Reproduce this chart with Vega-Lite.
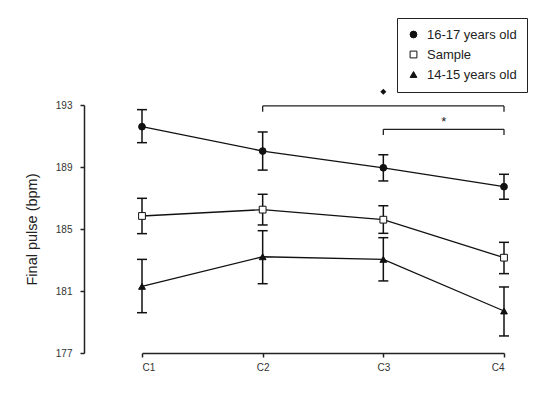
{
  "$schema": "https://vega.github.io/schema/vega-lite/v6.json",
  "autosize": "none",
  "width": 362,
  "height": 248,
  "padding": {"left": 142, "top": 105, "right": 46, "bottom": 42},
  "background": "white",
  "config": {
    "view": {"stroke": null},
    "font": "Liberation Sans",
    "axis": {"grid": false, "domainColor": "#222", "domainWidth": 1.5, "tickColor": "#222", "tickWidth": 1.5, "labelColor": "#333", "labelFont": "Liberation Sans", "titleFont": "Liberation Sans", "titleColor": "#222", "titleFontWeight": "normal"},
    "axisX": {"tickSize": 4, "labelFontSize": 10, "labelPadding": 5},
    "axisY": {"offset": 58, "tickSize": 4, "labelFontSize": 10, "labelPadding": 8, "titleFontSize": 14.5, "titlePadding": 16},
    "legend": {"orient": "none", "legendX": 255, "legendY": -87, "strokeColor": "#222", "padding": 10, "rowPadding": 6, "labelFontSize": 13, "labelColor": "#222", "labelFont": "Liberation Sans", "symbolSize": 46, "symbolStrokeColor": "#111", "symbolStrokeWidth": 1, "labelOffset": 7, "cornerRadius": 0}
  },
  "datasets": {
    "pts": [
      {"group": "16-17 years old", "x": 1, "mean": 191.60, "lo": 190.57, "hi": 192.70},
      {"group": "16-17 years old", "x": 2, "mean": 190.03, "lo": 188.80, "hi": 191.26},
      {"group": "16-17 years old", "x": 3, "mean": 188.95, "lo": 188.10, "hi": 189.79},
      {"group": "16-17 years old", "x": 4, "mean": 187.73, "lo": 186.92, "hi": 188.53},
      {"group": "Sample", "x": 1, "mean": 185.84, "lo": 184.70, "hi": 186.98},
      {"group": "Sample", "x": 2, "mean": 186.25, "lo": 185.26, "hi": 187.24},
      {"group": "Sample", "x": 3, "mean": 185.60, "lo": 184.72, "hi": 186.50},
      {"group": "Sample", "x": 4, "mean": 183.15, "lo": 182.12, "hi": 184.14},
      {"group": "14-15 years old", "x": 1, "mean": 181.30, "lo": 179.60, "hi": 183.04},
      {"group": "14-15 years old", "x": 2, "mean": 183.21, "lo": 181.47, "hi": 184.89},
      {"group": "14-15 years old", "x": 3, "mean": 183.04, "lo": 181.65, "hi": 184.44},
      {"group": "14-15 years old", "x": 4, "mean": 179.71, "lo": 178.10, "hi": 181.26}
    ],
    "brackets": [
      {"x1": 2, "x2": 4, "y1": 192.94, "y2": 192.94},
      {"x1": 2, "x2": 2, "y1": 192.94, "y2": 192.57},
      {"x1": 4, "x2": 4, "y1": 192.94, "y2": 192.57},
      {"x1": 3, "x2": 4, "y1": 191.43, "y2": 191.43},
      {"x1": 3, "x2": 3, "y1": 191.43, "y2": 191.06},
      {"x1": 4, "x2": 4, "y1": 191.43, "y2": 191.06}
    ],
    "marks": [
      {"x": 3, "y": 193.86, "label": "diamond"}
    ],
    "stars": [
      {"x": 3.5, "y": 191.62, "label": "*"}
    ]
  },
  "layer": [
    {
      "data": {"name": "pts"},
      "mark": {"type": "line", "color": "#111", "strokeWidth": 1.3},
      "encoding": {
        "x": {"field": "x", "type": "quantitative", "title": null,
              "scale": {"domain": [1, 4], "nice": false, "zero": false},
              "axis": {"values": [1, 2, 3, 4], "labelExpr": "'C' + datum.value"}},
        "y": {"field": "mean", "type": "quantitative", "title": "Final pulse (bpm)",
              "scale": {"domain": [177, 193], "nice": false, "zero": false},
              "axis": {"values": [177, 181, 185, 189, 193]}},
        "detail": {"field": "group"},
        "order": {"field": "x"}
      }
    },
    {
      "data": {"name": "pts"},
      "mark": {"type": "rule", "color": "#111", "strokeWidth": 1.5},
      "encoding": {
        "x": {"field": "x", "type": "quantitative", "title": null},
        "y": {"field": "lo", "type": "quantitative", "title": "Final pulse (bpm)"},
        "y2": {"field": "hi"}
      }
    },
    {
      "data": {"name": "pts"},
      "mark": {"type": "tick", "orient": "horizontal", "color": "#111", "size": 10, "thickness": 1.5, "opacity": 1},
      "encoding": {
        "x": {"field": "x", "type": "quantitative", "title": null},
        "y": {"field": "lo", "type": "quantitative", "title": "Final pulse (bpm)"}
      }
    },
    {
      "data": {"name": "pts"},
      "mark": {"type": "tick", "orient": "horizontal", "color": "#111", "size": 10, "thickness": 1.5, "opacity": 1},
      "encoding": {
        "x": {"field": "x", "type": "quantitative", "title": null},
        "y": {"field": "hi", "type": "quantitative", "title": "Final pulse (bpm)"}
      }
    },
    {
      "data": {"name": "pts"},
      "mark": {"type": "point", "filled": true, "strokeWidth": 1, "size": 46, "opacity": 1},
      "encoding": {
        "x": {"field": "x", "type": "quantitative", "title": null},
        "y": {"field": "mean", "type": "quantitative", "title": "Final pulse (bpm)"},
        "shape": {"field": "group", "type": "nominal", "title": null,
                  "scale": {"domain": ["16-17 years old", "Sample", "14-15 years old"], "range": ["circle", "square", "triangle-up"]}},
        "fill": {"field": "group", "type": "nominal", "title": null,
                 "scale": {"domain": ["16-17 years old", "Sample", "14-15 years old"], "range": ["#111", "white", "#111"]}},
        "stroke": {"field": "group", "type": "nominal", "title": null,
                 "scale": {"domain": ["16-17 years old", "Sample", "14-15 years old"], "range": ["#111", "#111", "#111"]}}
      }
    },
    {
      "data": {"name": "brackets"},
      "mark": {"type": "rule", "color": "#222", "strokeWidth": 1.3},
      "encoding": {
        "x": {"field": "x1", "type": "quantitative", "title": null},
        "x2": {"field": "x2"},
        "y": {"field": "y1", "type": "quantitative", "title": "Final pulse (bpm)"},
        "y2": {"field": "y2"}
      }
    },
    {
      "data": {"name": "marks"},
      "mark": {"type": "point", "shape": "diamond", "filled": true, "color": "#111", "size": 36, "opacity": 1},
      "encoding": {
        "x": {"field": "x", "type": "quantitative", "title": null},
        "y": {"field": "y", "type": "quantitative", "title": "Final pulse (bpm)"}
      }
    },
    {
      "data": {"name": "stars"},
      "mark": {"type": "text", "fontSize": 13, "color": "#222", "align": "center", "baseline": "alphabetic"},
      "encoding": {
        "x": {"field": "x", "type": "quantitative", "title": null},
        "y": {"field": "y", "type": "quantitative", "title": "Final pulse (bpm)"},
        "text": {"field": "label"}
      }
    }
  ]
}
